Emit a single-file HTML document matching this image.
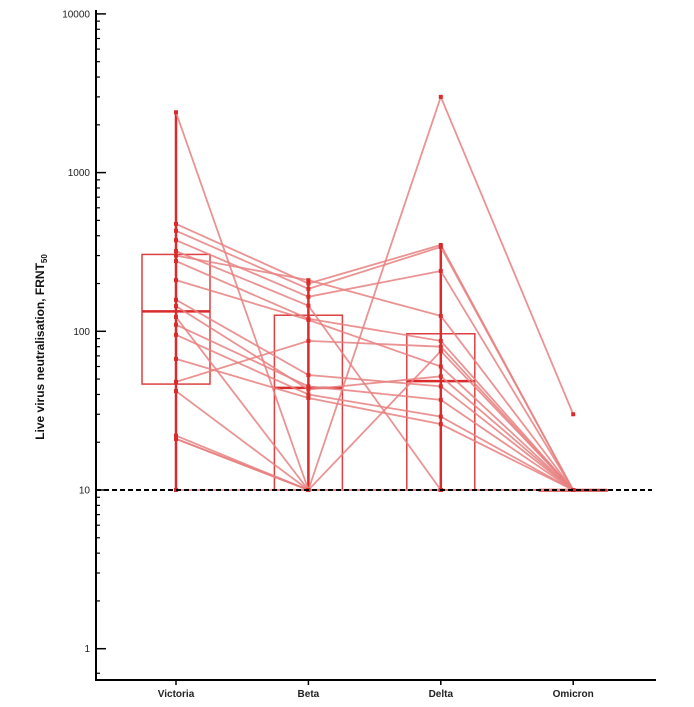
<!DOCTYPE html>
<html><head><meta charset="utf-8"><style>
body{margin:0;background:#fff;}
svg{display:block;font-family:"Liberation Sans",Arial,sans-serif;}
</style></head><body>
<svg id="chart" width="694" height="707" viewBox="0 0 694 707">
<g id="axes"></g>
<g id="boxes"></g>
<g id="lines"></g>
<g id="dots"></g>
<text x="44" y="347" transform="rotate(-90 44 347)" text-anchor="middle" font-size="12" font-weight="bold" fill="#111">Live virus neutralisation, FRNT<tspan font-size="8" dy="3">50</tspan></text>
</svg>
<script>
const categories = ["Victoria","Beta","Delta","Omicron"];
const victoria = [2400,475,430,375,320,300,277,210,158,144,123,110,95,67,48,42,22,21,21,10];
const beta     = [10,200,185,165,145,210,120,118,53,43,10,45,40,38,87,10,10,10,10,10];
const delta    = [75,350,340,240,10,125,87,60,45,52,3000,37,29,26,80,10,10,10,10,10];
const omicron  = [10,10,10,10,10,10,10,10,10,10,30,10,10,10,10,10,10,10,10,10];
const series = [victoria,beta,delta,omicron];
const yTicks = [1,10,100,1000,10000];
const yTickLabels = ["1","10","100","1000","10000"];
const threshold = 10;

const NS="http://www.w3.org/2000/svg";
const xPos = i => 176 + i*132.4;
const yPos = v => 490 - (Math.log10(v)-1)*158.7;
function mk(tag, parent, attrs){const e=document.createElementNS(NS,tag);for(const k in attrs)e.setAttribute(k,attrs[k]);parent.appendChild(e);return e;}
const axes=document.getElementById('axes'),boxes=document.getElementById('boxes'),lines=document.getElementById('lines'),dots=document.getElementById('dots');

let a=mk('line',axes,{x1:96,y1:10,x2:96,y2:681,stroke:'#000','stroke-width':2});


a=mk('line',axes,{x1:95,y1:680,x2:656,y2:680,stroke:'#000','stroke-width':2});


yTicks.forEach((t,i)=>{
  const y=yPos(t);
  const tk=mk('line',axes,{x1:96,y1:y,x2:106,y2:y,stroke:'#000','stroke-width':1.5});
  
  
  const tx=mk('text',axes,{x:90,y:y+3.5,'text-anchor':'end','font-size':10,fill:'#222'});
  tx.textContent=yTickLabels[i];
  
  
  for(let m=2;m<10;m++){
    const v=t*m; if(v>10000) break;
    const my=yPos(v);
    const mt=mk('line',axes,{x1:96,y1:my,x2:100,y2:my,stroke:'#000','stroke-width':1.2});
    
    
  }
});
[0.5,0.7].forEach(v=>{const my=yPos(v);if(my<679){const mt=mk('line',axes,{x1:96,y1:my,x2:100,y2:my,stroke:'#000','stroke-width':1.2});}});
categories.forEach((c,i)=>{
  const x=xPos(i);
  const tk=mk('line',axes,{x1:x,y1:680,x2:x,y2:685,stroke:'#000','stroke-width':1.5});
  
  
  const tx=mk('text',axes,{x:x,y:697,'text-anchor':'middle','font-size':10,'font-weight':'bold',fill:'#222'});
  tx.textContent=c;
  
  
});

function q(arr,p){const s=[...arr].sort((a,b)=>a-b);const pos=(s.length-1)*p;const lo=Math.floor(pos),hi=Math.ceil(pos);return s[lo]+(s[hi]-s[lo])*(pos-lo);}
const RED='#d92b2b';
for(let s=0;s<victoria.length;s++){
  const pts=series.map((arr,i)=>xPos(i)+','+yPos(arr[s])).join(' ');
  const pl=mk('polyline',lines,{points:pts,fill:'none',stroke:'#e88080','stroke-width':1.8,opacity:0.85});
  
  
  series.forEach((arr,i)=>{
    const c=mk('rect',dots,{x:xPos(i)-2,y:yPos(arr[s])-2,width:4,height:4,fill:RED});
    
    
  });
}
series.forEach((arr,i)=>{
  const x=xPos(i),w=34;
  const q1=q(arr,0.25),med=q(arr,0.5),q3=q(arr,0.75);
  const l1=Math.log10(q1),l3=Math.log10(q3),iqr=l3-l1;
  const inr=arr.filter(v=>Math.log10(v)<=l3+1.5*iqr+1e-9&&Math.log10(v)>=l1-1.5*iqr-1e-9);
  const mn=Math.min(...inr),mx=Math.max(...inr);
  const wk=mk('line',boxes,{x1:x,y1:yPos(mx),x2:x,y2:yPos(mn),stroke:RED,'stroke-width':2.5});
  
  
  const r=mk('rect',boxes,{x:x-w,y:yPos(q3),width:2*w,height:Math.max(1,yPos(q1)-yPos(q3)),fill:'none',stroke:RED,'stroke-width':1.5,opacity:0.9});
  
  
  const m=mk('line',boxes,{x1:x-w,y1:yPos(med),x2:x+w,y2:yPos(med),stroke:RED,'stroke-width':2.5});
  
  
});
a=mk('line',axes,{x1:96,y1:yPos(threshold),x2:652,y2:yPos(threshold),stroke:'#000','stroke-width':2,'stroke-dasharray':'5,3'});


axes.parentNode.appendChild(axes);
</script>
</body></html>
